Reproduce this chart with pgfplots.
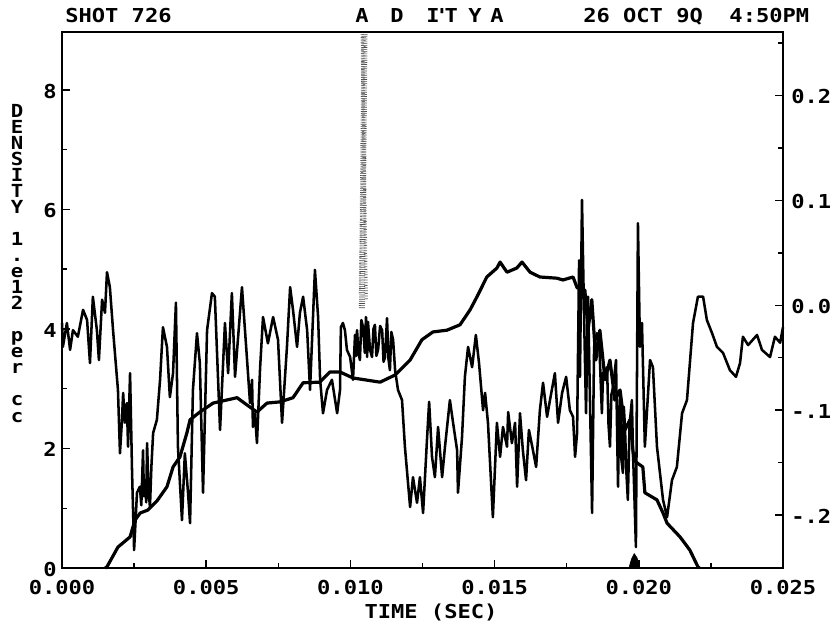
\documentclass[border=0pt]{standalone}
\usepackage{fontspec}
\usepackage{pgfplots}
\pgfplotsset{compat=1.18}
\newfontfamily\plotfont[FakeStretch=1.15]{DejaVu Sans Mono}
\newcommand{\pf}{\plotfont\bfseries\fontsize{14.4pt}{16pt}\selectfont}
\newcommand{\pfl}{\plotfont\bfseries\fontsize{13.5pt}{15pt}\selectfont}
\begin{document}
\begin{tikzpicture}
\path[use as bounding box] (-46.5pt,-42.75pt) rectangle (582pt,426pt);
% ---- main (left) axis ----
\begin{axis}[
  scale only axis, width=540.75pt, height=402pt,
  xmin=0, xmax=0.025, ymin=0, ymax=8.97,
  scaled x ticks=false,
  xtick={0,0.005,0.01,0.015,0.02,0.025},
  xticklabels={0.000,0.005,0.010,0.015,0.020,0.025},
  minor x tick num=1,
  ytick={0,2,4,6,8}, yticklabels={0,2,4,6,8},
  minor y tick num=1,
  xtick pos=bottom, ytick pos=left,
  tick align=inside,
  major tick length=6pt, minor tick length=3.5pt,
  tick style={black, line width=1.1pt},
  axis line style={line width=1.5pt},
  xticklabel style={font=\pf, anchor=base, inner sep=0pt, yshift=-19.5pt},
  yticklabel style={font=\pf, anchor=east, inner sep=0pt, xshift=-3.75pt, yshift=-0.8pt},
  clip=false,
]
% speckled streak
\addplot[black!70, line width=4.5pt, dash pattern=on 0.5pt off 1.1pt] coordinates {(0.01040,4.35) (0.01049,8.97)};
\addplot[black!60, line width=2.5pt, dash pattern=on 0.6pt off 1.4pt] coordinates {(0.01055,4.5) (0.01041,8.97)};
\addplot[black!55, line width=1.5pt, dash pattern=on 0.5pt off 1.7pt] coordinates {(0.01032,4.6) (0.01050,8.9)};
% noisy signal
\addplot[black, line width=1.9pt, line join=round] coordinates {
(0.00000,4.10) (0.00003,3.70) (0.00017,4.10) (0.00028,3.65) (0.00038,3.98) (0.00055,3.87)
(0.00073,4.32) (0.00087,4.15) (0.00097,3.43) (0.00107,4.54) (0.00121,3.98) (0.00128,3.48)
(0.00139,4.49) (0.00149,4.27) (0.00156,4.95) (0.00166,4.70) (0.00177,3.98) (0.00194,2.98)
(0.00201,1.92) (0.00208,2.48) (0.00212,2.93) (0.00218,2.43) (0.00225,2.76) (0.00229,2.03)
(0.00236,3.26) (0.00243,1.59) (0.00250,0.30) (0.00260,1.26) (0.00270,1.36) (0.00275,1.05)
(0.00281,1.97) (0.00284,1.20) (0.00288,1.47) (0.00292,1.10) (0.00295,2.09) (0.00300,1.30)
(0.00305,1.02) (0.00310,1.70) (0.00316,2.26) (0.00329,2.48) (0.00340,3.15)
(0.00350,4.03) (0.00364,3.70) (0.00374,2.86) (0.00385,3.26) (0.00395,4.44) (0.00402,2.03)
(0.00416,0.80) (0.00426,1.92) (0.00437,1.26) (0.00444,0.75) (0.00454,2.98) (0.00468,3.93)
(0.00478,3.43) (0.00489,1.26) (0.00503,3.98) (0.00520,4.60) (0.00530,4.54) (0.00548,2.31)
(0.00565,4.10) (0.00576,3.26) (0.00589,4.60) (0.00600,3.20) (0.00624,4.70) (0.00641,3.53)
(0.00652,2.76) (0.00659,3.15) (0.00662,2.36) (0.00669,2.59) (0.00676,2.09) (0.00687,3.36)
(0.00697,4.20) (0.00714,3.76) (0.00732,4.20) (0.00749,3.82) (0.00763,2.43) (0.00780,3.70)
(0.00791,4.70) (0.00801,4.32) (0.00815,3.70) (0.00825,4.27) (0.00836,4.54) (0.00850,3.98)
(0.00860,2.98) (0.00877,4.99) (0.00888,4.20) (0.00895,3.15) (0.00905,2.59) (0.00919,2.98)
(0.00936,3.15) (0.00954,2.59) (0.00964,2.98) (0.00967,4.03) (0.00974,4.10) (0.00981,3.98)
(0.00988,3.65) (0.00999,3.53) (0.01009,3.15) (0.01016,3.90) (0.01020,3.55) (0.01023,3.98)
(0.01028,3.60) (0.01033,3.48) (0.01038,4.15) (0.01044,4.03) (0.01050,3.60) (0.01054,4.20)
(0.01058,3.53) (0.01061,4.12) (0.01068,3.65) (0.01075,3.53) (0.01080,4.00) (0.01085,4.07)
(0.01090,3.55) (0.01096,3.65) (0.01103,4.05) (0.01110,3.98) (0.01115,3.45)
(0.01120,3.53) (0.01127,4.18) (0.01132,3.50) (0.01137,3.31) (0.01142,3.95) (0.01148,3.82) (0.01155,3.31) (0.01165,2.98)
(0.01179,2.81) (0.01189,2.03) (0.01207,1.02) (0.01217,1.52) (0.01231,1.09) (0.01241,1.52)
(0.01252,0.92) (0.01266,2.19) (0.01273,2.78) (0.01283,1.86) (0.01293,1.52) (0.01304,2.36)
(0.01318,1.52) (0.01328,2.03) (0.01345,2.81) (0.01356,2.43) (0.01370,1.97) (0.01373,1.26)
(0.01387,2.19) (0.01397,3.20) (0.01408,3.70) (0.01422,3.36) (0.01435,3.90) (0.01446,3.43)
(0.01460,2.64) (0.01467,2.93) (0.01477,2.43) (0.01494,0.85) (0.01508,2.43) (0.01519,1.86)
(0.01529,2.36) (0.01543,2.03) (0.01547,2.61) (0.01560,2.09) (0.01571,2.43) (0.01578,1.36)
(0.01588,2.59) (0.01598,1.97) (0.01609,1.47) (0.01619,2.31) (0.01633,1.97) (0.01644,1.69)
(0.01657,2.64) (0.01668,3.10) (0.01682,2.53) (0.01692,2.81) (0.01709,3.26) (0.01720,2.43)
(0.01734,2.93) (0.01748,3.20) (0.01761,2.64) (0.01772,2.53) (0.01779,1.86) (0.01786,2.26)
(0.01793,5.15) (0.01796,3.20) (0.01803,6.16) (0.01810,4.27) (0.01817,2.59) (0.01824,4.54)
(0.01838,0.92) (0.01845,3.70) (0.01855,3.93) (0.01862,3.87) (0.01872,2.59) (0.01876,3.26)
(0.01890,3.36) (0.01895,2.40) (0.01900,2.03) (0.01905,2.90) (0.01911,3.03) (0.01921,3.48)
(0.01925,2.20) (0.01928,1.36) (0.01932,2.60) (0.01935,2.93) (0.01940,1.80) (0.01945,1.59)
(0.01948,2.70) (0.01952,2.36) (0.01957,1.60) (0.01962,1.14) (0.01968,2.40) (0.01976,2.81)
(0.01980,1.90) (0.01983,1.47) (0.01990,0.35)
(0.01997,5.77) (0.02004,3.70) (0.02011,4.10) (0.02021,2.03) (0.02039,3.48) (0.02049,3.36)
(0.02063,2.03) (0.02084,1.14) (0.02098,0.85) (0.02115,1.47) (0.02132,1.69) (0.02150,2.59)
(0.02167,2.81) (0.02188,4.10) (0.02205,4.54) (0.02223,4.54) (0.02236,4.15) (0.02254,3.93)
(0.02271,3.70) (0.02292,3.60) (0.02316,3.31) (0.02337,3.20) (0.02351,3.43) (0.02361,3.87)
(0.02379,3.73) (0.02410,3.90) (0.02427,3.65) (0.02455,3.53) (0.02472,3.87) (0.02490,3.77)
(0.02500,4.03)
};
% density
\addplot[black, line width=2.4pt, line join=round] coordinates {
(0.00150,0.00) (0.00156,0.02) (0.00194,0.35) (0.00236,0.52) (0.00253,0.80) (0.00271,0.92)
(0.00298,0.97) (0.00329,1.12) (0.00364,1.36) (0.00385,1.69) (0.00409,1.86) (0.00433,2.26)
(0.00444,2.48) (0.00478,2.61) (0.00524,2.76) (0.00607,2.85) (0.00641,2.73) (0.00676,2.61)
(0.00711,2.76) (0.00756,2.78) (0.00801,2.85) (0.00836,3.10) (0.00894,3.11) (0.00929,3.28)
(0.00964,3.28) (0.01009,3.18) (0.01103,3.11) (0.01155,3.23) (0.01207,3.48) (0.01248,3.82)
(0.01286,3.95) (0.01335,3.98) (0.01380,4.07) (0.01415,4.32) (0.01439,4.54) (0.01473,4.87)
(0.01508,5.02) (0.01519,5.12) (0.01543,4.95) (0.01577,5.02) (0.01595,5.12) (0.01623,4.95)
(0.01657,4.87) (0.01716,4.85) (0.01737,4.82) (0.01772,4.87) (0.01786,4.69) (0.01813,4.65)
(0.01824,3.98) (0.01837,4.49) (0.01851,3.48) (0.01865,3.98) (0.01883,3.15) (0.01900,3.48)
(0.01917,2.81) (0.01935,2.98) (0.01952,2.31) (0.01969,2.48) (0.01983,1.81) (0.01994,1.76)
(0.02014,1.69) (0.02021,1.26) (0.02063,1.14) (0.02084,0.92) (0.02098,0.75) (0.02143,0.52)
(0.02177,0.30) (0.02205,0.02) (0.02210,0.00)
};
% small blob at the base
\addplot[black, fill=black, line width=0.5pt] coordinates {(0.01966,0) (0.01974,0.14) (0.01984,0.24) (0.01994,0.17) (0.02002,0)};
\end{axis}
% ---- right axis ----
\begin{axis}[
  scale only axis, width=540.75pt, height=402pt,
  xmin=0, xmax=0.025, ymin=-0.2505, ymax=0.2605,
  xtick=\empty, minor xtick={0.0025,0.005,0.0075,0.01,0.0125,0.015,0.0175,0.02,0.0225},
  xtick pos=top,
  ytick={-0.2,-0.1,0,0.1,0.2}, yticklabels={-.2,-.1,0.0,0.1,0.2},
  minor ytick={-0.25,-0.15,-0.05,0.05,0.15,0.25},
  ytick pos=right, yticklabel pos=right,
  tick align=inside,
  major tick length=6pt, minor tick length=3.5pt,
  tick style={black, line width=1.1pt},
  axis line style={line width=1.5pt},
  yticklabel style={font=\pf, anchor=west, inner sep=0pt, xshift=6pt, yshift=-0.8pt},
]
\addplot[draw=none] coordinates {(0,0)};
\end{axis}
% ---- texts ----
\node[font=\pf, anchor=base west, inner sep=0pt] at (2.25pt,409pt) {SHOT 726};
\node[font=\pf, anchor=base west, inner sep=0pt] at (390.75pt,409pt) {26~OCT~9Q~~4:50PM};
\foreach \c/\xx in {A/225, D/251.25, I/278.25, '/285, T/292, Y/309.75, A/326.25}
  \node[font=\pf, anchor=base, inner sep=0pt] at (\xx pt,409pt) {\c};
\node[font=\pf, anchor=base, inner sep=0pt] at (276.75pt,-37.5pt) {TIME (SEC)};
\foreach \c/\yy in {D/342, E/330, N/318, S/306, I/294, T/282, Y/270, 1/246, ./234, e/222, 1/210, 2/198, p/174, e/162, r/150, c/126, c/114}
  \node[font=\pfl, anchor=base, inner sep=0pt] at (-33.75pt,\yy pt-4.5pt) {\c};
\end{tikzpicture}
\end{document}
